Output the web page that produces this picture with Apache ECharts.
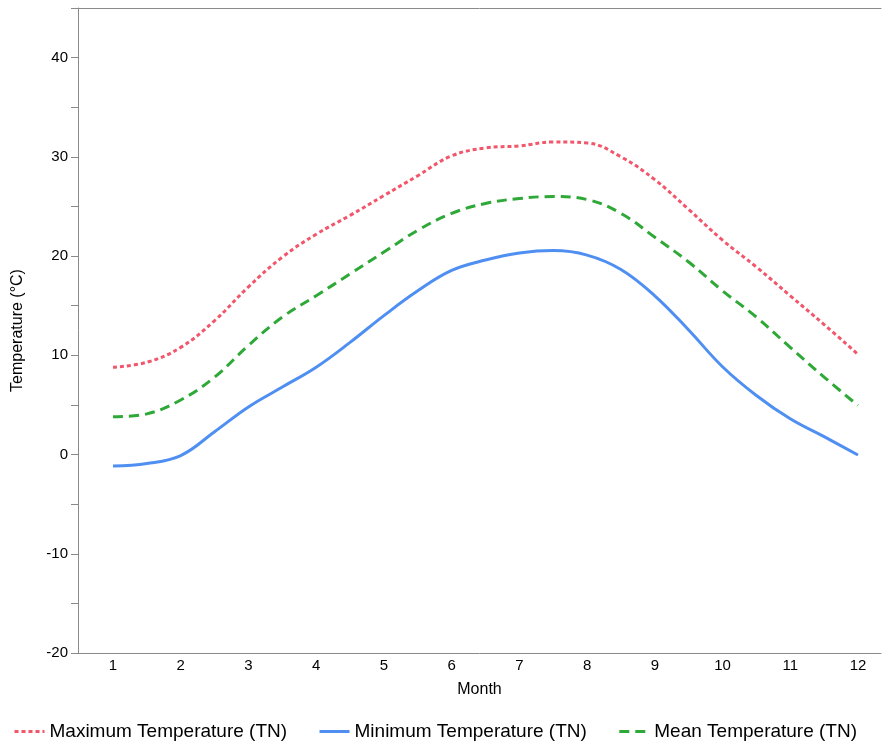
<!DOCTYPE html>
<html>
<head>
<meta charset="utf-8">
<title>Monthly Temperature</title>
<script src="https://cdn.jsdelivr.net/npm/echarts@6/dist/echarts.min.js"></script>
<style>
  html, body { margin: 0; padding: 0; background: #fff; }
  #main { width: 883px; height: 744px; }
</style>
</head>
<body>
<div id="main"></div>
<script>
// half-month positions
const months = [1, 1.5, 2, 2.5, 3, 3.5, 4, 4.5, 5, 5.5, 6, 6.5, 7, 7.5, 8, 8.5, 9, 9.5, 10, 10.5, 11, 11.5, 12]
const maxTemp = [8.8, 9.3, 10.8, 13.5, 16.9, 19.9, 22.2, 24.1, 26.1, 28.1, 30.1, 30.9, 31.1, 31.5, 31.4, 30.0, 27.7, 24.7, 21.6, 18.9, 16.0, 13.1, 10.1]
const minTemp = [-1.15, -0.9, -0.1, 2.3, 4.8, 6.8, 8.8, 11.3, 14.0, 16.5, 18.55, 19.6, 20.3, 20.55, 20.1, 18.65, 16.0, 12.55, 8.85, 5.95, 3.6, 1.8, -0.05]
const meanTemp = [3.8, 4.1, 5.5, 7.8, 11.0, 13.85, 16.0, 18.2, 20.4, 22.6, 24.3, 25.3, 25.8, 26.0, 25.7, 24.3, 21.9, 19.4, 16.5, 13.85, 10.8, 7.8, 4.95]
const monthTicks = [1, 2, 3, 4, 5, 6, 7, 8, 9, 10, 11, 12]
const seriesNames = ['Maximum Temperature (TN)', 'Minimum Temperature (TN)', 'Mean Temperature (TN)']

const font = "'Liberation Sans', Arial, Helvetica, sans-serif"
const axisColor = '#8a8a8a'

function pairs(values) {
  return months.map((m, i) => [m, values[i]])
}

const option = {
  animation: false,
  textStyle: { fontFamily: font },
  grid: { left: 78, right: 2, top: 8, bottom: 91, outerBoundsMode: 'none', containLabel: false },
  legend: {
    left: 8,
    top: 717,
    itemWidth: 30,
    itemHeight: 14,
    itemGap: 31,
    itemStyle: { opacity: 0 },
    lineStyle: { width: 3 },
    textStyle: { fontFamily: font, fontSize: 19, color: '#000' },
    data: seriesNames
  },
  xAxis: [
    {
      type: 'value',
      min: 0.483,
      max: 12.34,
      name: 'Month',
      nameLocation: 'middle',
      nameGap: 29,
      nameTextStyle: { fontFamily: font, fontSize: 16, color: '#000' },
      splitLine: { show: false },
      axisLine: { show: true, onZero: false, lineStyle: { color: axisColor, width: 1 } },
      axisTick: { show: false },
      axisLabel: {
        customValues: monthTicks,
        margin: 5,
        fontSize: 15,
        color: '#000',
        fontFamily: font
      }
    },
    {
      type: 'value',
      position: 'top',
      min: 0.483,
      max: 12.34,
      splitLine: { show: false },
      axisLine: { show: true, onZero: false, lineStyle: { color: axisColor, width: 1 } },
      axisTick: { show: false },
      axisLabel: { show: false }
    }
  ],
  yAxis: {
    type: 'value',
    min: -20,
    max: 45,
    interval: 5,
    name: 'Temperature (°C)',
    nameLocation: 'middle',
    nameGap: 52,
    nameTextStyle: { fontFamily: font, fontSize: 16, color: '#000' },
    splitLine: { show: false },
    axisLine: { show: true, onZero: false, lineStyle: { color: axisColor, width: 1 } },
    axisTick: { show: true, length: 7, lineStyle: { color: axisColor } },
    axisLabel: {
      margin: 10,
      fontSize: 15,
      color: '#000',
      fontFamily: font,
      formatter: v => (v % 10 === 0 && v <= 40 ? String(v) : '')
    }
  },
  series: [
    {
      name: seriesNames[0],
      type: 'line',
      smooth: 0.4,
      symbol: 'none',
      lineStyle: { color: '#f2566b', width: 3, type: [4, 3] },
      itemStyle: { color: '#f2566b' },
      data: pairs(maxTemp)
    },
    {
      name: seriesNames[1],
      type: 'line',
      smooth: 0.4,
      symbol: 'none',
      lineStyle: { color: '#4f8ff2', width: 3, type: 'solid' },
      itemStyle: { color: '#4f8ff2' },
      data: pairs(minTemp)
    },
    {
      name: seriesNames[2],
      type: 'line',
      smooth: 0.4,
      symbol: 'none',
      lineStyle: { color: '#2ea836', width: 3, type: [10, 6] },
      itemStyle: { color: '#2ea836' },
      data: pairs(meanTemp)
    }
  ]
}

const chart = echarts.init(document.getElementById('main'))
chart.setOption(option)
</script>
</body>
</html>
